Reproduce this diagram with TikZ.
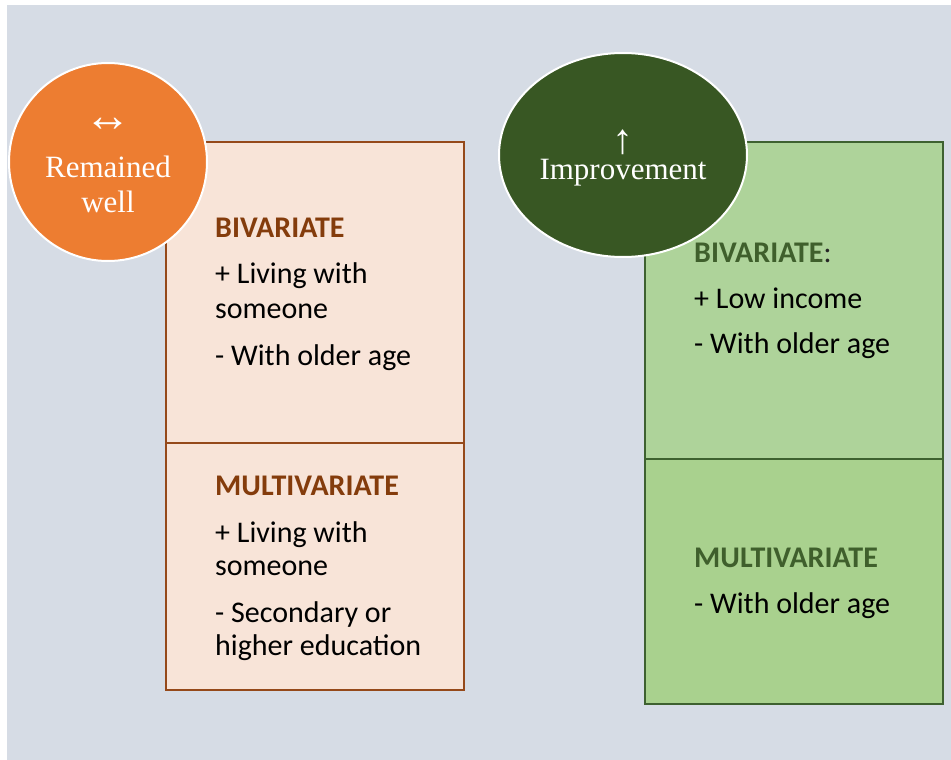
\documentclass[tikz,border=0pt]{standalone}
\usepackage{fontspec}
\setmainfont{Carlito}
\newfontfamily\circfont{Liberation Serif}
\usetikzlibrary{shapes.geometric}
\definecolor{bg}{HTML}{D6DCE5}
\definecolor{orangeC}{HTML}{ED7D31}
\definecolor{peach}{HTML}{F8E4D8}
\definecolor{brownB}{HTML}{95491A}
\definecolor{brownT}{HTML}{843C0C}
\definecolor{greenE}{HTML}{385723}
\definecolor{greenA}{HTML}{AED39A}
\definecolor{greenB}{HTML}{A9D18E}
\definecolor{greenD}{HTML}{3E6130}
\definecolor{greenT}{HTML}{3F5F2C}
\tikzset{
  boxpart/.style={draw, line width=2pt, minimum width=298pt, anchor=north west, outer sep=0pt, inner sep=0pt},
  lbox/.style={boxpart, draw=brownB, fill=peach},
  rboxA/.style={boxpart, draw=greenD, fill=greenA},
  rboxB/.style={boxpart, draw=greenD, fill=greenB},
  txt/.style={anchor=base west, inner sep=0pt, font=\fontsize{30}{35}\selectfont, text=black},
  lhead/.style={txt, font=\fontsize{30}{35}\selectfont\bfseries, text=brownT},
  rhead/.style={txt, font=\fontsize{30}{35}\selectfont\bfseries, text=greenT},
  ctext/.style={anchor=base, inner sep=0pt, text=white, font=\circfont\fontsize{31}{35}\selectfont},
  carrow/.style={ctext, font=\circfont\fontsize{#1}{#1}\selectfont},
}
\begin{document}
\begin{tikzpicture}[x=1pt,y=-1pt]
\useasboundingbox (0,0) rectangle (951,760);
\fill[white] (0,0) rectangle (951,760);
\fill[bg] (7,5) rectangle (951,760);
% left boxes
\node[lbox, minimum height=301pt] (lt) at (166,142) {};
\node[lbox, minimum height=247pt] (lb) at (166,443) {};
% right boxes
\node[rboxA, minimum height=317pt] (rt) at (645,142) {};
\node[rboxB, minimum height=245pt] (rb) at (645,459) {};
% circle and ellipse
\node[circle, fill=orangeC, draw=white, line width=2pt, minimum size=198pt, inner sep=0pt] (c1) at (108,162) {};
\node[ellipse, fill=greenE, draw=white, line width=2pt, minimum width=248pt, minimum height=204pt, inner sep=0pt] (e1) at (623,155) {};
% circle texts
\node[carrow=47] (c1a) at (108,131) {↔};
\node[ctext] (c1b) at (108,177) {Remained};
\node[ctext] (c1c) at (108,212) {well};
\node[carrow=42] (e1a) at (623,153) {↑};
\node[ctext] (e1b) at (623,179) {Improvement};
% left texts
\node[lhead] (l1) at (215,237) {BIVARIATE};
\node[txt] (l2) at (215,283) {+ Living with};
\node[txt] (l3) at (215,318) {someone};
\node[txt] (l4) at (215,365) {- With older age};
\node[lhead] (l5) at (215,495) {MULTIVARIATE};
\node[txt] (l6) at (215,542) {+ Living with};
\node[txt] (l7) at (215,575) {someone};
\node[txt] (l8) at (215,622) {- Secondary or};
\node[txt] (l9) at (215,655) {higher education};
% right texts
\node[rhead] (r1) at (694,262) {BIVARIATE\textmd{\color{black!85}:}};
\node[txt] (r2) at (694,308) {+ Low income};
\node[txt] (r3) at (694,353) {- With older age};
\node[rhead] (r4) at (694,567) {MULTIVARIATE};
\node[txt] (r5) at (694,613) {- With older age};
\end{tikzpicture}
\end{document}
